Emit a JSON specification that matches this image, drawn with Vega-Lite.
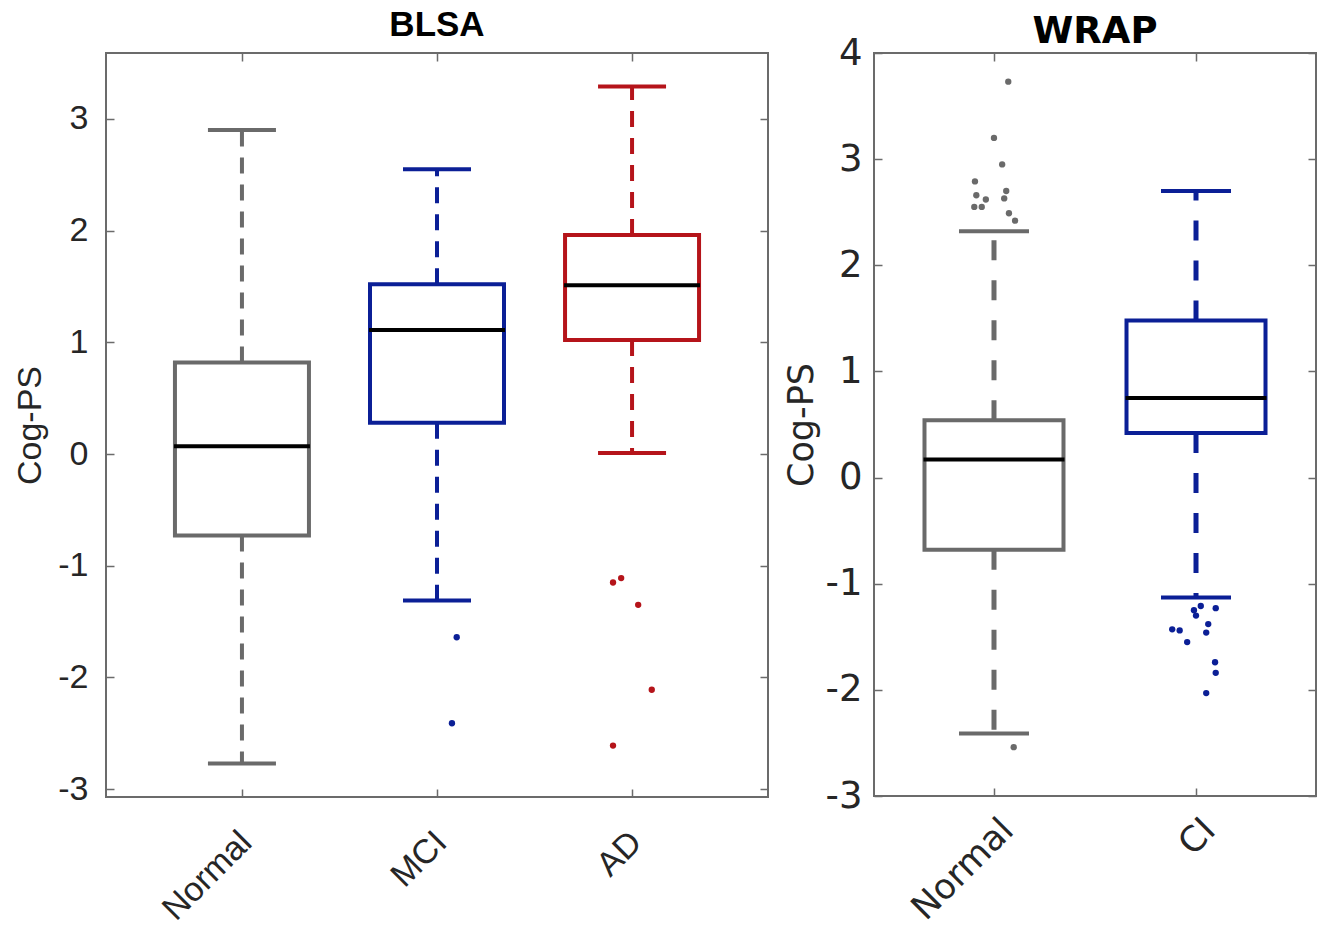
{
  "$schema": "https://vega.github.io/schema/vega-lite/v6.json",
  "padding": {"left": 12, "top": 7, "right": 0, "bottom": 0},
  "background": "white",
  "spacing": 13,
  "config": {
    "view": {"stroke": "#6b6b6b", "strokeWidth": 2},
    "tick": {"opacity": 1},
    "axis": {"grid": false, "domain": false, "tickColor": "#6b6b6b", "tickWidth": 1.5, "tickSize": -8, "labelColor": "#262626", "titleColor": "#262626", "titleFontWeight": "normal"}
  },
  "datasets": {
    "blsa_box": [
      {"group": "Normal", "lower": -2.77, "q1": -0.73, "median": 0.07, "q3": 0.82, "upper": 2.9},
      {"group": "MCI", "lower": -1.31, "q1": 0.28, "median": 1.11, "q3": 1.52, "upper": 2.55},
      {"group": "AD", "lower": 0.01, "q1": 1.02, "median": 1.51, "q3": 1.96, "upper": 3.29}
    ],
    "blsa_out": [
      {"group": "MCI", "value": -1.64, "jitter": 0.29},
      {"group": "MCI", "value": -2.41, "jitter": 0.22},
      {"group": "AD", "value": -1.15, "jitter": -0.28},
      {"group": "AD", "value": -1.11, "jitter": -0.16},
      {"group": "AD", "value": -1.35, "jitter": 0.09},
      {"group": "AD", "value": -2.11, "jitter": 0.29},
      {"group": "AD", "value": -2.61, "jitter": -0.28}
    ],
    "wrap_box": [
      {"group": "Normal", "lower": -2.41, "q1": -0.68, "median": 0.17, "q3": 0.54, "upper": 2.32},
      {"group": "CI", "lower": -1.13, "q1": 0.42, "median": 0.75, "q3": 1.48, "upper": 2.7}
    ],
    "wrap_out": [
      {"group": "Normal", "value": 3.73, "jitter": 0.21},
      {"group": "Normal", "value": 3.2, "jitter": 0.0},
      {"group": "Normal", "value": 2.95, "jitter": 0.12},
      {"group": "Normal", "value": 2.79, "jitter": -0.28},
      {"group": "Normal", "value": 2.7, "jitter": 0.18},
      {"group": "Normal", "value": 2.66, "jitter": -0.26},
      {"group": "Normal", "value": 2.62, "jitter": -0.12},
      {"group": "Normal", "value": 2.63, "jitter": 0.15},
      {"group": "Normal", "value": 2.55, "jitter": -0.29},
      {"group": "Normal", "value": 2.55, "jitter": -0.18},
      {"group": "Normal", "value": 2.49, "jitter": 0.22},
      {"group": "Normal", "value": 2.42, "jitter": 0.31},
      {"group": "Normal", "value": -2.54, "jitter": 0.29},
      {"group": "CI", "value": -1.21, "jitter": 0.07},
      {"group": "CI", "value": -1.25, "jitter": -0.03},
      {"group": "CI", "value": -1.23, "jitter": 0.29},
      {"group": "CI", "value": -1.3, "jitter": 0.0},
      {"group": "CI", "value": -1.38, "jitter": 0.18},
      {"group": "CI", "value": -1.43, "jitter": -0.35},
      {"group": "CI", "value": -1.44, "jitter": -0.24},
      {"group": "CI", "value": -1.46, "jitter": 0.15},
      {"group": "CI", "value": -1.55, "jitter": -0.13},
      {"group": "CI", "value": -1.74, "jitter": 0.28},
      {"group": "CI", "value": -1.84, "jitter": 0.29},
      {"group": "CI", "value": -2.03, "jitter": 0.15}
    ]
  },
  "hconcat": [
    {
      "title": {"text": "BLSA", "font": "Liberation Sans", "fontSize": 35, "fontWeight": "bold", "color": "#000000", "offset": 9, "frame": "group", "anchor": "middle"},
      "width": 662,
      "height": 744,
      "resolve": {"axis": {"x": "independent", "y": "independent"}},
      "encoding": {
        "x": {"field": "group", "type": "nominal", "scale": {"type": "point", "domain": ["Normal", "MCI", "AD"], "padding": 0.697}, "axis": null}
      },
      "layer": [
        {
          "data": {"name": "blsa_box"},
          "mark": {"type": "rule", "strokeWidth": 4, "strokeDash": [16, 11]},
          "encoding": {
            "y": {"field": "q3", "type": "quantitative", "scale": {"domain": [-3.07, 3.59], "nice": false, "zero": false}, "axis": null},
            "y2": {"field": "upper"},
            "color": {"field": "group", "type": "nominal", "scale": {"domain": ["Normal", "MCI", "AD", "CI"], "range": ["#6a6a6a", "#0b1f96", "#b5141a", "#0b1f96"]}, "legend": null}
          }
        },
        {
          "data": {"name": "blsa_box"},
          "mark": {"type": "rule", "strokeWidth": 4, "strokeDash": [16, 11]},
          "encoding": {
            "y": {"field": "q1", "type": "quantitative", "axis": null},
            "y2": {"field": "lower"},
            "color": {"field": "group", "type": "nominal", "legend": null}
          }
        },
        {
          "data": {"name": "blsa_box"},
          "mark": {"type": "bar", "fill": "white", "strokeWidth": 4, "width": 134},
          "encoding": {
            "x": {"field": "group", "type": "nominal", "scale": {"type": "point", "domain": ["Normal", "MCI", "AD"], "padding": 0.697},
              "axis": {"orient": "bottom", "title": null, "labelAngle": -45, "labelAlign": "right", "labelBaseline": "top", "labelFont": "Liberation Sans", "labelFontSize": 34, "labelPadding": 36, "labelOffset": -8}},
            "y": {"field": "q1", "type": "quantitative",
              "axis": {"orient": "left", "values": [-3, -2, -1, 0, 1, 2, 3], "labelExpr": "'' + datum.value", "title": "Cog-PS", "titleFont": "Liberation Sans", "titleFontSize": 34, "titlePadding": 10, "labelFont": "Liberation Sans", "labelFontSize": 34, "labelPadding": 26}},
            "y2": {"field": "q3"},
            "stroke": {"field": "group", "type": "nominal", "scale": {"domain": ["Normal", "MCI", "AD", "CI"], "range": ["#6a6a6a", "#0b1f96", "#b5141a", "#0b1f96"]}, "legend": null}
          }
        },
        {
          "data": {"name": "blsa_box"},
          "mark": {"type": "tick", "size": 68, "thickness": 4, "opacity": 1},
          "encoding": {
            "y": {"field": "upper", "type": "quantitative", "axis": null},
            "color": {"field": "group", "type": "nominal", "legend": null}
          }
        },
        {
          "data": {"name": "blsa_box"},
          "mark": {"type": "tick", "size": 68, "thickness": 4, "opacity": 1},
          "encoding": {
            "y": {"field": "lower", "type": "quantitative", "axis": null},
            "color": {"field": "group", "type": "nominal", "legend": null}
          }
        },
        {
          "data": {"name": "blsa_box"},
          "mark": {"type": "tick", "size": 136, "thickness": 4, "color": "#000000", "opacity": 1},
          "encoding": {
            "x": {"field": "group", "type": "nominal", "scale": {"type": "point", "domain": ["Normal", "MCI", "AD"], "padding": 0.697},
              "axis": {"orient": "top", "title": null, "labels": false}},
            "y": {"field": "median", "type": "quantitative",
              "axis": {"orient": "right", "values": [-3, -2, -1, 0, 1, 2, 3], "title": null, "labels": false}}
          }
        },
        {
          "data": {"name": "blsa_out"},
          "mark": {"type": "circle", "size": 40, "opacity": 1},
          "encoding": {
            "xOffset": {"field": "jitter", "type": "quantitative", "scale": {"domain": [-1, 1], "range": [-68, 68]}},
            "y": {"field": "value", "type": "quantitative", "axis": null},
            "color": {"field": "group", "type": "nominal", "legend": null}
          }
        }
      ]
    },
    {
      "title": {"text": "WRAP", "font": "DejaVu Sans", "fontSize": 37, "fontWeight": "bold", "color": "#000000", "offset": 0, "dy": 17, "frame": "group", "anchor": "middle"},
      "width": 442,
      "height": 743,
      "resolve": {"axis": {"x": "independent", "y": "independent"}},
      "encoding": {
        "x": {"field": "group", "type": "nominal", "scale": {"type": "point", "domain": ["Normal", "CI"], "padding": 0.594}, "axis": null}
      },
      "layer": [
        {
          "data": {"name": "wrap_box"},
          "mark": {"type": "rule", "strokeWidth": 5, "strokeDash": [20, 20]},
          "encoding": {
            "y": {"field": "q3", "type": "quantitative", "scale": {"domain": [-3, 4], "nice": false, "zero": false}, "axis": null},
            "y2": {"field": "upper"},
            "color": {"field": "group", "type": "nominal", "legend": null}
          }
        },
        {
          "data": {"name": "wrap_box"},
          "mark": {"type": "rule", "strokeWidth": 5, "strokeDash": [20, 20]},
          "encoding": {
            "y": {"field": "q1", "type": "quantitative", "axis": null},
            "y2": {"field": "lower"},
            "color": {"field": "group", "type": "nominal", "legend": null}
          }
        },
        {
          "data": {"name": "wrap_box"},
          "mark": {"type": "bar", "fill": "white", "strokeWidth": 4, "width": 139},
          "encoding": {
            "x": {"field": "group", "type": "nominal", "scale": {"type": "point", "domain": ["Normal", "CI"], "padding": 0.594},
              "axis": {"orient": "bottom", "title": null, "labelAngle": -45, "labelAlign": "right", "labelBaseline": "top", "labelFont": "DejaVu Sans", "labelFontSize": 35, "labelPadding": 24, "labelOffset": 1}},
            "y": {"field": "q1", "type": "quantitative",
              "axis": {"orient": "left", "values": [-3, -2, -1, 0, 1, 2, 3, 4], "labelExpr": "'' + datum.value", "title": "Cog-PS", "titleFont": "DejaVu Sans", "titleFontSize": 35, "titlePadding": 6, "labelFont": "DejaVu Sans", "labelFontSize": 37, "labelPadding": 20}},
            "y2": {"field": "q3"},
            "stroke": {"field": "group", "type": "nominal", "legend": null}
          }
        },
        {
          "data": {"name": "wrap_box"},
          "mark": {"type": "tick", "size": 70, "thickness": 4, "opacity": 1},
          "encoding": {
            "y": {"field": "upper", "type": "quantitative", "axis": null},
            "color": {"field": "group", "type": "nominal", "legend": null}
          }
        },
        {
          "data": {"name": "wrap_box"},
          "mark": {"type": "tick", "size": 70, "thickness": 4, "opacity": 1},
          "encoding": {
            "y": {"field": "lower", "type": "quantitative", "axis": null},
            "color": {"field": "group", "type": "nominal", "legend": null}
          }
        },
        {
          "data": {"name": "wrap_box"},
          "mark": {"type": "tick", "size": 141, "thickness": 4, "color": "#000000", "opacity": 1},
          "encoding": {
            "x": {"field": "group", "type": "nominal", "scale": {"type": "point", "domain": ["Normal", "CI"], "padding": 0.594},
              "axis": {"orient": "top", "title": null, "labels": false}},
            "y": {"field": "median", "type": "quantitative",
              "axis": {"orient": "right", "values": [-3, -2, -1, 0, 1, 2, 3, 4], "title": null, "labels": false}}
          }
        },
        {
          "data": {"name": "wrap_out"},
          "mark": {"type": "circle", "size": 40, "opacity": 1},
          "encoding": {
            "xOffset": {"field": "jitter", "type": "quantitative", "scale": {"domain": [-1, 1], "range": [-68, 68]}},
            "y": {"field": "value", "type": "quantitative", "axis": null},
            "color": {"field": "group", "type": "nominal", "legend": null}
          }
        }
      ]
    }
  ]
}
